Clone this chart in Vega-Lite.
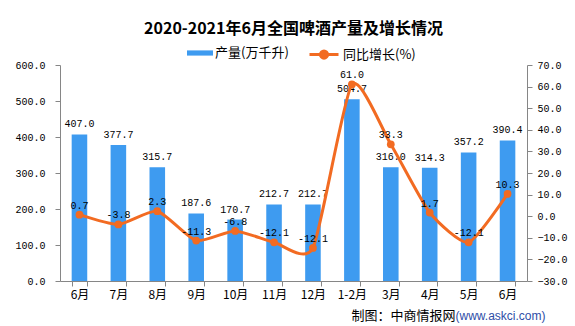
{
  "$schema": "https://vega.github.io/schema/vega-lite/v6.json",
  "width": 467,
  "height": 216,
  "autosize": {"type": "none"},
  "padding": {"left": 60, "top": 65, "right": 48, "bottom": 45},
  "background": "white",
  "title": {"text": "2020-2021年6月全国啤酒产量及增长情况", "font": "Noto Sans CJK SC", "fontSize": 16, "fontWeight": "bold", "color": "#000", "offset": 2},
  "data": {"values": [
    {"m": "2020年6月", "v": 407.0, "g": 0.7, "gl": "0.7"},
    {"m": "2020年7月", "v": 377.7, "g": -3.8, "gl": "-3.8"},
    {"m": "2020年8月", "v": 315.7, "g": 2.3, "gl": "2.3"},
    {"m": "2020年9月", "v": 187.6, "g": -11.3, "gl": "-11.3"},
    {"m": "2020年10月", "v": 170.7, "g": -6.8, "gl": "-6.8"},
    {"m": "2020年11月", "v": 212.7, "g": -12.1, "gl": "-12.1"},
    {"m": "2020年12月", "v": 212.7, "g": -14.7, "gl": "-12.1"},
    {"m": "2021年1-2月", "v": 504.7, "g": 61.0, "gl": "61.0"},
    {"m": "2021年3月", "v": 316.0, "g": 33.3, "gl": "33.3"},
    {"m": "2021年4月", "v": 314.3, "g": 1.7, "gl": "1.7"},
    {"m": "2021年5月", "v": 357.2, "g": -12.1, "gl": "-12.1"},
    {"m": "2021年6月", "v": 390.4, "g": 10.3, "gl": "10.3"}
  ]},
  "encoding": {
    "x": {"field": "m", "type": "nominal", "sort": null,
      "scale": {"paddingInner": 0.6, "paddingOuter": 0.3},
      "axis": {"title": null, "labelExpr": "split(datum.value,'年')[1]", "labelFont": "Noto Sans CJK SC", "labelFontSize": 12, "labelAngle": 0, "tickBand": "extent", "tickSize": 5, "domainColor": "#868686", "tickColor": "#868686", "labelPadding": 3}}
  },
  "layer": [
    {
      "encoding": {
        "y": {"field": "v", "type": "quantitative",
          "scale": {"domain": [0, 600], "nice": false},
          "axis": {"orient": "left", "values": [0, 100, 200, 300, 400, 500, 600], "format": ".1f", "grid": false,
            "domainColor": "#868686", "tickColor": "#868686", "tickSize": 5, "labelPadding": 10,
            "title": "制图：中商情报网", "titleAngle": 0, "titleX": 395, "titleY": 250, "titleAlign": "right", "titleBaseline": "middle",
            "titleFont": "Noto Sans CJK SC", "titleFontSize": 13, "titleFontWeight": "normal", "titleColor": "#000"}}
      },
      "layer": [
        {"mark": {"type": "bar", "width": {"band": 1}},
         "encoding": {"fill": {"datum": "产量(万千升)", "scale": {"range": ["#3E9BF0"]},
           "legend": {"orient": "none", "legendX": 127, "legendY": -25, "title": null, "symbolType": "M-1,-0.2H1V0.2H-1Z", "symbolSize": 676, "symbolStrokeWidth": 0, "labelFont": "Noto Sans CJK SC", "labelFontSize": 13, "labelOffset": 2, "padding": 0}}}},
        {"mark": {"type": "text", "baseline": "middle", "dy": -10, "font": "Liberation Mono", "fontSize": 10, "color": "#000"},
         "encoding": {"text": {"field": "v", "type": "quantitative", "format": ".1f"}}}
      ]
    },
    {
      "encoding": {
        "y": {"field": "g", "type": "quantitative",
          "scale": {"domain": [-30, 70], "nice": false},
          "axis": {"orient": "right", "values": [-30, -20, -10, 0, 10, 20, 30, 40, 50, 60, 70], "format": ".1f", "grid": false,
            "domainColor": "#868686", "tickColor": "#868686", "tickSize": 5, "labelPadding": 5,
            "title": "(www.askci.com)", "titleAngle": 0, "titleX": -72, "titleY": 250, "titleAlign": "left", "titleBaseline": "middle",
            "titleFont": "Liberation Sans", "titleFontSize": 12, "titleFontWeight": "normal", "titleColor": "#2E4DA7"}}
      },
      "layer": [
        {"mark": {"type": "line", "interpolate": "cardinal", "tension": 0.4, "strokeWidth": 3},
         "encoding": {"stroke": {"datum": "同比增长(%)", "scale": {"range": ["#F26B22"]},
           "legend": {"orient": "none", "legendX": 248, "legendY": -26.5, "title": null, "symbolType": "M-1,0H1M-0.25,0A0.25,0.25,0,1,1,0.25,0A0.25,0.25,0,1,1,-0.25,0Z", "symbolSize": 841, "symbolStrokeWidth": 3, "symbolFillColor": "#F26B22", "labelFont": "Noto Sans CJK SC", "labelFontSize": 13, "labelOffset": 3, "padding": 0}}}},
        {"mark": {"type": "point", "filled": true, "size": 60, "color": "#F26B22", "opacity": 1}},
        {"mark": {"type": "text", "baseline": "middle", "dy": -9, "font": "Liberation Mono", "fontSize": 10, "color": "#000"},
         "encoding": {"text": {"field": "gl", "type": "nominal"}}}
      ]
    }
  ],
  "resolve": {"scale": {"y": "independent"}},
  "config": {
    "view": {"stroke": null},
    "axis": {"labelFont": "Liberation Mono", "labelFontSize": 10, "labelColor": "#000"}
  }
}
